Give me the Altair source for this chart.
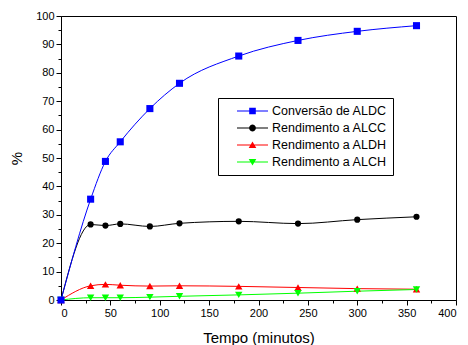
import math
import altair as alt
import pandas as pd

# ---- data ----
tempo = [0, 30, 45, 60, 90, 120, 180, 240, 300, 360]
conv_aldc = [0, 35.5, 48.8, 55.7, 67.4, 76.3, 85.9, 91.4, 94.6, 96.6]
rend_alcc = [0, 26.6, 26.2, 26.8, 25.9, 27.0, 27.7, 26.9, 28.3, 29.3]
rend_aldh = [0, 5.0, 5.5, 5.2, 4.9, 5.0, 4.8, 4.4, 4.0, 3.8]
rend_alch = [0, 0.8, 0.8, 0.8, 1.0, 1.3, 1.8, 2.4, 3.1, 3.7]

series_names = ["Conversão de ALDC", "Rendimento a ALCC",
                "Rendimento a ALDH", "Rendimento a ALCH"]
series_values = [conv_aldc, rend_alcc, rend_aldh, rend_alch]
series_colors = ["#0000ff", "#000000", "#ff0000", "#00ff00"]
series_shapes = ["square", "circle", "triangle-up", "triangle-down"]

rows = []
for name, vals in zip(series_names, series_values):
    for t, v in zip(tempo, vals):
        rows.append({"tempo": t, "valor": v, "serie": name})
df = pd.DataFrame(rows)

FONT = "Liberation Sans"

# ---- legend symbols: line segment + marker, as custom SVG paths ----
LEG_SYMBOL_SIZE = 196
U = math.sqrt(LEG_SYMBOL_SIZE) / 2.0  # px per path unit


def p(v):
    return f"{v / U:.3f}"


def rect(x0, y0, x1, y1):
    return f"M{p(x0)},{p(y0)}L{p(x1)},{p(y0)}L{p(x1)},{p(y1)}L{p(x0)},{p(y1)}Z"


CX = 21.5
line_seg = rect(6, -0.5, 37, 0.5)
sq = rect(CX - 3.3, -3.3, CX + 3.3, 3.3)
circ = "M" + "L".join(
    f"{p(CX + 3.4 * math.cos(2 * math.pi * k / 20))},{p(3.4 * math.sin(2 * math.pi * k / 20))}"
    for k in range(20)) + "Z"
tri_up = f"M{p(CX)},{p(-3.6)}L{p(CX + 3.8)},{p(3.0)}L{p(CX - 3.8)},{p(3.0)}Z"
tri_down = f"M{p(CX)},{p(3.6)}L{p(CX - 3.8)},{p(-3.0)}L{p(CX + 3.8)},{p(-3.0)}Z"
legend_paths = [line_seg + sq, line_seg + circ, line_seg + tri_up, line_seg + tri_down]

# ---- encodings ----
x_enc = alt.X(
    "tempo:Q",
    scale=alt.Scale(domain=[0, 400], nice=False, zero=False),
    axis=alt.Axis(
        title="Tempo (minutos)",
        values=list(range(0, 401, 25)),
        labelExpr="datum.value % 50 === 0 ? datum.label : ''",
        tickSize={"condition": {"test": "datum.value % 50 !== 0", "value": 3}, "value": 5},
        titlePadding=12,
        grid=False,
    ),
)
y_enc = alt.Y(
    "valor:Q",
    scale=alt.Scale(domain=[0, 100], nice=False),
    axis=alt.Axis(
        title="%",
        values=list(range(0, 101, 5)),
        labelExpr="datum.value % 10 === 0 ? datum.label : ''",
        tickSize={"condition": {"test": "datum.value % 10 !== 0", "value": 3}, "value": 5},
        titlePadding=11,
        grid=False,
    ),
)

draw_order = [2, 3, 1, 0]
marker_sizes = {"square": 50, "circle": 38, "triangle-up": 55, "triangle-down": 55}

layers = []
for i in draw_order:
    layers.append(
        alt.Chart(df)
        .transform_filter(alt.datum.serie == series_names[i])
        .mark_line(color=series_colors[i], strokeWidth=1, interpolate="monotone")
        .encode(x=x_enc, y=y_enc)
    )
for i in draw_order:
    layers.append(
        alt.Chart(df)
        .transform_filter(alt.datum.serie == series_names[i])
        .mark_point(filled=True, opacity=1, color=series_colors[i],
                    shape=series_shapes[i], size=marker_sizes[series_shapes[i]])
        .encode(x=x_enc, y=y_enc)
    )

NBSP = "\u00a0"
leg = alt.Legend(
    title=None,
    orient="none",
    legendX=157,
    legendY=82,
    direction="vertical",
    strokeColor="black",
    fillColor="white",
    padding=6,
    symbolSize=LEG_SYMBOL_SIZE,
    symbolStrokeWidth=0,
    symbolOpacity=1,
    labelOffset=34,
    labelFont=FONT,
    labelFontSize=12.5,
    labelColor="black",
    rowPadding=3,
    labelExpr=f"datum.label + '{NBSP * 3}'",
)
legend_layer = (
    alt.Chart(df)
    .mark_point(filled=True, opacity=0)
    .encode(
        x=x_enc,
        y=y_enc,
        color=alt.Color("serie:N", scale=alt.Scale(domain=series_names, range=series_colors), legend=leg),
        shape=alt.Shape("serie:N", scale=alt.Scale(domain=series_names, range=legend_paths), legend=leg),
    )
)
layers.append(legend_layer)

chart = (
    alt.layer(*layers)
    .properties(
        width=395,
        height=284,
        padding={"left": 53, "top": 8, "right": 4, "bottom": 45},
        autosize=alt.AutoSizeParams(type="none"),
        background="white",
    )
    .configure_view(stroke="black", strokeWidth=1)
    .configure_axis(
        labelFont=FONT,
        labelFontSize=11,
        labelColor="black",
        labelPadding=2,
        titleFont=FONT,
        titleFontSize=15,
        titleFontWeight="normal",
        titleColor="black",
        domainColor="black",
        tickColor="black",
    )
)

chart.save("out.html", embed_options={"renderer": "svg", "actions": False})
